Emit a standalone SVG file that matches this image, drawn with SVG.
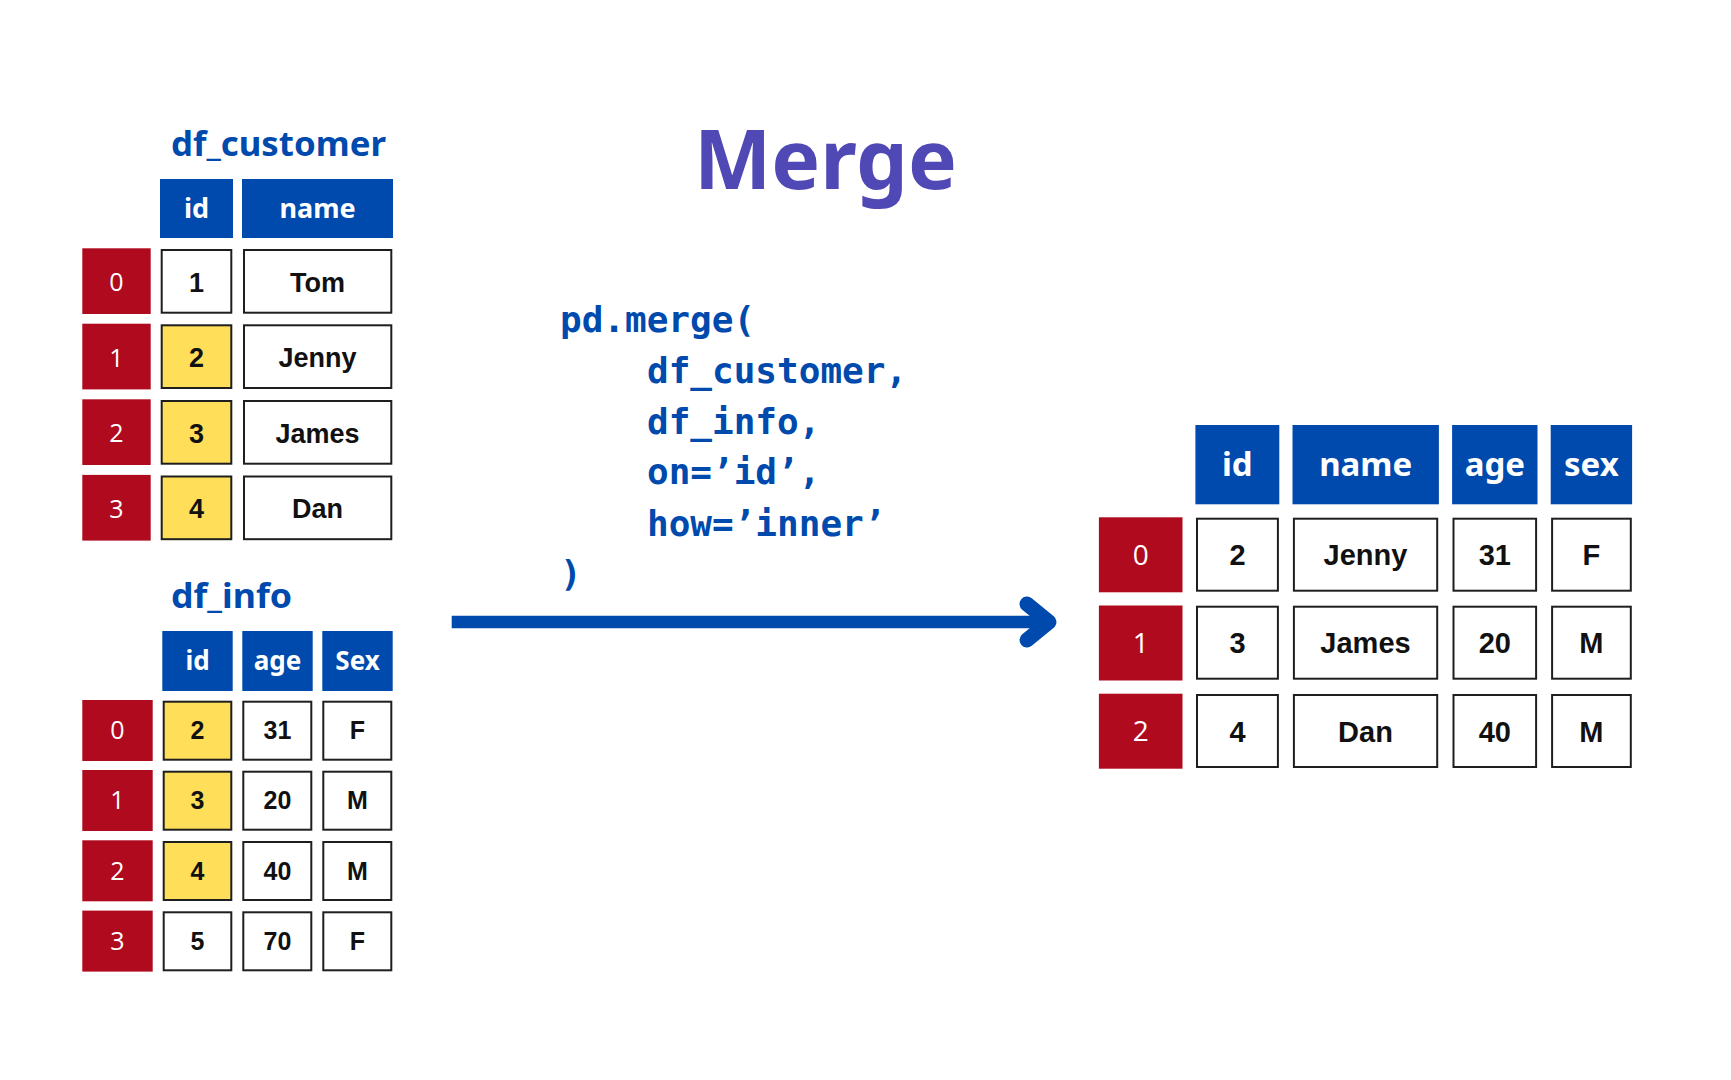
<svg xmlns="http://www.w3.org/2000/svg" width="1731" height="1080" viewBox="0 0 1731 1080">
<style>
.bg{fill:#ffffff}
.hd{fill:#004AAD}
.ix{fill:#B00A1F}
.cell{fill:#ffffff;stroke:#1e1e1e;stroke-width:2}
.key{fill:#FFDE59;stroke:#1e1e1e;stroke-width:2}
.title{font-family:"Noto Sans","Open Sans",sans-serif;font-weight:700;fill:#004AAD}
.merge{font-family:"Noto Sans","Open Sans",sans-serif;font-weight:700;fill:#5048B5;font-size:82px}
.ht{font-family:"Noto Sans","Open Sans",sans-serif;font-weight:700;fill:#ffffff;text-anchor:middle}
.it{font-family:"Open Sans","Noto Sans",sans-serif;font-weight:400;fill:#ffffff;text-anchor:middle}
.ct{font-family:"Liberation Sans",Arial,sans-serif;font-weight:700;fill:#111111;text-anchor:middle}
.code{font-family:"DejaVu Sans Mono","Liberation Mono",monospace;font-weight:700;fill:#004AAD;font-size:36px}
.s1{font-size:27px}.s2{font-size:25px}.s3{font-size:29px}.i3{font-size:28px}.h1{font-size:27px}.h2{font-size:26px}.h3{font-size:33px}
</style>
<rect class="bg" x="0" y="0" width="1731" height="1080"/>

<text class="merge" x="694" y="189">Merge</text>

<g id="df_customer">
  <text class="title" x="171" y="156" font-size="34" textLength="215" lengthAdjust="spacingAndGlyphs">df_customer</text>
  <rect class="hd" x="160" y="179" width="73" height="59"/>
  <rect class="hd" x="242" y="179" width="151" height="59"/>
  <text class="ht h1" x="196.5" y="218">id</text>
  <text class="ht h1" x="317.5" y="218">name</text>

  <rect class="ix" x="82.3" y="248.3" width="68.4" height="65.7"/>
  <rect class="cell" x="161.7" y="250" width="69.6" height="62.7"/>
  <rect class="cell" x="244" y="250" width="147.3" height="62.7"/>
  <text class="it s2" x="116.5" y="291">0</text>
  <text class="ct s1" x="196.5" y="291.5">1</text>
  <text class="ct s1" x="317.5" y="292">Tom</text>

  <rect class="ix" x="82.3" y="323.7" width="68.4" height="65.7"/>
  <rect class="key" x="161.7" y="325.3" width="69.6" height="62.7"/>
  <rect class="cell" x="244" y="325.3" width="147.3" height="62.7"/>
  <text class="it s2" x="116.5" y="366.5">1</text>
  <text class="ct s1" x="196.5" y="367">2</text>
  <text class="ct s1" x="317.5" y="367">Jenny</text>

  <rect class="ix" x="82.3" y="399.3" width="68.4" height="65.7"/>
  <rect class="key" x="161.7" y="401" width="69.6" height="62.7"/>
  <rect class="cell" x="244" y="401" width="147.3" height="62.7"/>
  <text class="it s2" x="116.5" y="442">2</text>
  <text class="ct s1" x="196.5" y="442.5">3</text>
  <text class="ct s1" x="317.5" y="442.5">James</text>

  <rect class="ix" x="82.3" y="474.9" width="68.4" height="65.7"/>
  <rect class="key" x="161.7" y="476.5" width="69.6" height="62.7"/>
  <rect class="cell" x="244" y="476.5" width="147.3" height="62.7"/>
  <text class="it s2" x="116.5" y="517.5">3</text>
  <text class="ct s1" x="196.5" y="518">4</text>
  <text class="ct s1" x="317.5" y="518">Dan</text>
</g>

<g id="df_info">
  <text class="title" x="171" y="608" font-size="34" textLength="121" lengthAdjust="spacingAndGlyphs">df_info</text>
  <rect class="hd" x="162.3" y="631" width="70.4" height="60"/>
  <rect class="hd" x="242.3" y="631" width="70.4" height="60"/>
  <rect class="hd" x="322.3" y="631" width="70.4" height="60"/>
  <text class="ht h2" x="197.5" y="669.5">id</text>
  <text class="ht h2" x="277.5" y="669.5">age</text>
  <text class="ht h2" x="357.5" y="669.5">Sex</text>

  <rect class="ix" x="82.3" y="700" width="70.4" height="61"/>
  <rect class="key" x="163.7" y="701.7" width="67.6" height="58"/>
  <rect class="cell" x="243.3" y="701.7" width="68" height="58"/>
  <rect class="cell" x="323.3" y="701.7" width="68" height="58"/>
  <text class="it s2" x="117.5" y="739">0</text>
  <text class="ct s2" x="197.5" y="739">2</text>
  <text class="ct s2" x="277.5" y="739">31</text>
  <text class="ct s2" x="357.5" y="739">F</text>

  <rect class="ix" x="82.3" y="770" width="70.4" height="61"/>
  <rect class="key" x="163.7" y="771.7" width="67.6" height="58"/>
  <rect class="cell" x="243.3" y="771.7" width="68" height="58"/>
  <rect class="cell" x="323.3" y="771.7" width="68" height="58"/>
  <text class="it s2" x="117.5" y="809">1</text>
  <text class="ct s2" x="197.5" y="809">3</text>
  <text class="ct s2" x="277.5" y="809">20</text>
  <text class="ct s2" x="357.5" y="809">M</text>

  <rect class="ix" x="82.3" y="840.3" width="70.4" height="61"/>
  <rect class="key" x="163.7" y="842" width="67.6" height="58"/>
  <rect class="cell" x="243.3" y="842" width="68" height="58"/>
  <rect class="cell" x="323.3" y="842" width="68" height="58"/>
  <text class="it s2" x="117.5" y="879.5">2</text>
  <text class="ct s2" x="197.5" y="879.5">4</text>
  <text class="ct s2" x="277.5" y="879.5">40</text>
  <text class="ct s2" x="357.5" y="879.5">M</text>

  <rect class="ix" x="82.3" y="910.6" width="70.4" height="61"/>
  <rect class="cell" x="163.7" y="912.3" width="67.6" height="58"/>
  <rect class="cell" x="243.3" y="912.3" width="68" height="58"/>
  <rect class="cell" x="323.3" y="912.3" width="68" height="58"/>
  <text class="it s2" x="117.5" y="950">3</text>
  <text class="ct s2" x="197.5" y="950">5</text>
  <text class="ct s2" x="277.5" y="950">70</text>
  <text class="ct s2" x="357.5" y="950">F</text>
</g>

<g id="code">
  <text class="code" x="560" y="331.5">pd.merge(</text>
  <text class="code" x="647" y="383">df_customer,</text>
  <text class="code" x="647" y="433.5">df_info,</text>
  <text class="code" x="647" y="484">on=’id’,</text>
  <text class="code" x="647" y="535.5">how=’inner’</text>
  <text class="code" x="560" y="586">)</text>
</g>

<g id="connectors">
  <line x1="451.7" y1="622" x2="1046" y2="622" stroke="#004AAD" stroke-width="12.7"/>
  <polyline points="1027,604 1049,622 1027,640" fill="none" stroke="#004AAD" stroke-width="15" stroke-linecap="round" stroke-linejoin="round"/>
</g>

<g id="result">
  <rect class="hd" x="1195.4" y="425" width="83.9" height="79.3"/>
  <rect class="hd" x="1292.5" y="425" width="146.4" height="79.3"/>
  <rect class="hd" x="1452.1" y="425" width="85.4" height="79.3"/>
  <rect class="hd" x="1550.7" y="425" width="81.4" height="79.3"/>
  <text class="ht h3" x="1237.3" y="475.5">id</text>
  <text class="ht h3" x="1365.7" y="475.5">name</text>
  <text class="ht h3" x="1494.8" y="475.5">age</text>
  <text class="ht h3" x="1591.4" y="475.5">sex</text>

  <rect class="ix" x="1098.9" y="517.3" width="83.6" height="75"/>
  <rect class="cell" x="1197" y="518.7" width="80.9" height="72"/>
  <rect class="cell" x="1293.9" y="518.7" width="143.3" height="72"/>
  <rect class="cell" x="1453.5" y="518.7" width="82.6" height="72"/>
  <rect class="cell" x="1552.1" y="518.7" width="78.7" height="72"/>
  <text class="it i3" x="1140.7" y="564.5">0</text>
  <text class="ct s3" x="1237.5" y="565">2</text>
  <text class="ct s3" x="1365.5" y="565">Jenny</text>
  <text class="ct s3" x="1494.8" y="565">31</text>
  <text class="ct s3" x="1591.4" y="565">F</text>

  <rect class="ix" x="1098.9" y="605.5" width="83.6" height="75"/>
  <rect class="cell" x="1197" y="606.7" width="80.9" height="72"/>
  <rect class="cell" x="1293.9" y="606.7" width="143.3" height="72"/>
  <rect class="cell" x="1453.5" y="606.7" width="82.6" height="72"/>
  <rect class="cell" x="1552.1" y="606.7" width="78.7" height="72"/>
  <text class="it i3" x="1140.7" y="653">1</text>
  <text class="ct s3" x="1237.5" y="653">3</text>
  <text class="ct s3" x="1365.5" y="653">James</text>
  <text class="ct s3" x="1494.8" y="653">20</text>
  <text class="ct s3" x="1591.4" y="653">M</text>

  <rect class="ix" x="1098.9" y="693.7" width="83.6" height="75"/>
  <rect class="cell" x="1197" y="695" width="80.9" height="72"/>
  <rect class="cell" x="1293.9" y="695" width="143.3" height="72"/>
  <rect class="cell" x="1453.5" y="695" width="82.6" height="72"/>
  <rect class="cell" x="1552.1" y="695" width="78.7" height="72"/>
  <text class="it i3" x="1140.7" y="741">2</text>
  <text class="ct s3" x="1237.5" y="741.5">4</text>
  <text class="ct s3" x="1365.5" y="741.5">Dan</text>
  <text class="ct s3" x="1494.8" y="741.5">40</text>
  <text class="ct s3" x="1591.4" y="741.5">M</text>
</g>
</svg>
